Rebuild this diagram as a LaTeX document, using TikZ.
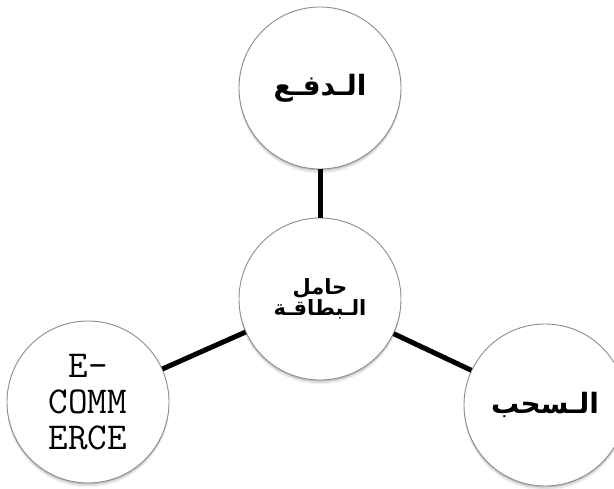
\documentclass[tikz,border=0pt]{standalone}
\usepackage{fontspec}
\usetikzlibrary{shadows}
\TeXXeTstate=1
\newfontfamily\arabicfont[Script=Arabic]{DejaVu Sans}
\begin{document}
\begin{tikzpicture}[x=1pt,y=-1pt,
  bubble/.style={circle, draw=black!45, line width=0.9pt, fill=white, minimum size=162pt, inner sep=0pt, align=center,
    drop shadow={shadow xshift=0pt, shadow yshift=-1.5pt, opacity=0.12, fill=black},
    drop shadow={shadow xshift=0pt, shadow yshift=-3pt, opacity=0.08, fill=black},
    drop shadow={shadow xshift=0pt, shadow yshift=-4.5pt, opacity=0.05, fill=black}},
  link/.style={line width=5pt, black},
  artext/.style={font=\arabicfont\bfseries\fontsize{28}{32}\selectfont},
  artextsmall/.style={font=\arabicfont\bfseries\fontsize{21}{24}\selectfont},
  entext/.style={font=\ttfamily\fontsize{38}{36}\selectfont}
]
\useasboundingbox (0,0) rectangle (614,489);
\node[bubble, artext] (top) at (320,88) {\raisebox{-4pt}{\beginR الـدفـع\endR}};
\node[bubble, artextsmall] (center) at (320,299) {\beginR حامل\endR\\[-3pt]\beginR الـبطاقـة\endR};
\node[bubble, entext] (left) at (88,402) {E-\\COMM\\ERCE};
\node[bubble, artext] (right) at (545,405) {\raisebox{-2pt}{\beginR الـسحب\endR}};
\draw[link] (top) -- (center);
\draw[link] (center) -- (left);
\draw[link] (center) -- (right);
\end{tikzpicture}
\end{document}
